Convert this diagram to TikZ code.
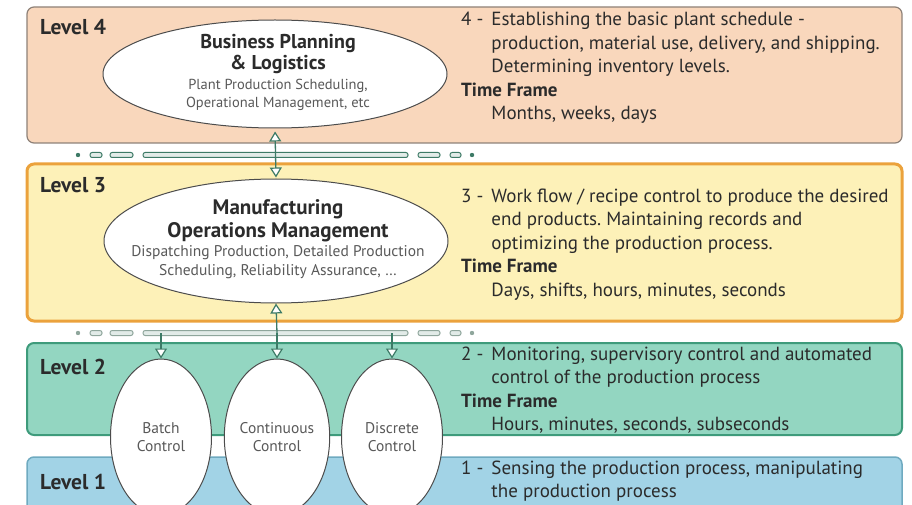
\documentclass[tikz,border=0pt]{standalone}
\usepackage{fontspec}
\setmainfont{PT Sans}
\usepackage{tikz}
\usetikzlibrary{shapes.geometric,arrows.meta,positioning,calc}
\frenchspacing

\definecolor{lfourfill}{HTML}{F9D7BC}
\definecolor{lfourline}{HTML}{8E8178}
\definecolor{lthreefill}{HTML}{FDF1B8}
\definecolor{lthreeline}{HTML}{EBA23C}
\definecolor{ltwofill}{HTML}{93D6C1}
\definecolor{ltwoline}{HTML}{3E9B7B}
\definecolor{lonefill}{HTML}{A2D3E6}
\definecolor{loneline}{HTML}{6FAAC0}
\definecolor{inktext}{HTML}{2B2B2B}
\definecolor{linkgreen}{HTML}{3D7A66}
\definecolor{sepgray}{HTML}{8FA69C}

\tikzset{
  levelbox/.style={rounded corners=7pt, line width=1.2pt},
  levellabel/.style={anchor=base west, font=\fontsize{21.5}{24}\selectfont\bfseries, text=inktext, inner sep=0pt},
  leveltext/.style={anchor=base west, font=\fontsize{19}{23.5}\selectfont, text=inktext, inner sep=0pt},
  bigoval/.style={ellipse, draw=black!70, fill=white, line width=1pt, minimum width=344pt, minimum height=108pt, inner sep=0pt},
  ctloval/.style={ellipse, draw=black!70, fill=white, line width=1pt, minimum width=101pt, minimum height=156pt, inner sep=0pt,
    font=\fontsize{15.5}{18.5}\selectfont, text=black!65, align=center},
  sepdot/.style={draw=linkgreen, fill=white!85!linkgreen, line width=1pt, rounded corners=2.2pt},
  link/.style={draw=linkgreen, line width=1.3pt},
  tip/.style={-{Triangle[open, width=12pt, length=10pt, line width=1.2pt, fill=white]}}
}

\newcommand{\levellines}[3]{%
  \begin{tabular}[t]{@{}l@{\hspace{8pt}}l@{}}#1 -& #2\\\multicolumn{2}{@{}l@{}}{\bfseries Time Frame}\\ & #3\end{tabular}}

\begin{document}
\begin{tikzpicture}[x=1pt,y=-1pt]
  \useasboundingbox (0,0) rectangle (912,505);
  \clip (0,0) rectangle (912,505);

  % level boxes
  \draw[levelbox, fill=lfourfill, draw=lfourline] (27,7) rectangle (902,143);
  \draw[levelbox, fill=lthreefill, draw=lthreeline, line width=3pt] (27,164) rectangle (902,321);
  \draw[levelbox, fill=ltwofill, draw=ltwoline, line width=2pt] (27,343) rectangle (902,435);
  \draw[levelbox, fill=lonefill, draw=loneline, line width=1.5pt] (27,457) rectangle (902,530);

  \node[levellabel] (lab4) at (40,35) {Level 4};
  \node[levellabel] (lab3) at (40,193) {Level 3};
  \node[levellabel] (lab2) at (40,374) {Level 2};
  \node[levellabel] (lab1) at (40,489) {Level 1};

  % separators
  \foreach \yy/\cc in {155/linkgreen, 333/sepgray} {
    \fill[\cc] (78,\yy) circle (2.2pt);
    \draw[sepdot, draw=\cc] (90,\yy-2.5) rectangle (102,\yy+2.5);
    \draw[sepdot, draw=\cc] (110,\yy-2.5) rectangle (133,\yy+2.5);
    \draw[sepdot, draw=\cc] (143,\yy-2.5) rectangle (408,\yy+2.5);
    \draw[sepdot, draw=\cc] (418,\yy-2.5) rectangle (440,\yy+2.5);
    \draw[sepdot, draw=\cc] (450,\yy-2.5) rectangle (461,\yy+2.5);
    \fill[\cc] (472,\yy) circle (2.2pt);
  }

  % ovals
  \node[bigoval] (bpl) at (275,74) {};
  \node[text=inktext, font=\fontsize{20}{21}\selectfont\bfseries, align=center] (bpltitle) at (278,54) {Business Planning\\\& Logistics};
  \node[text=black!65, font=\fontsize{14.5}{18}\selectfont, align=center] (bplsub) at (278,95) {Plant Production Scheduling,\\Operational Management, etc};

  \node[bigoval, minimum height=124pt] (mom) at (276,241) {};
  \node[text=inktext, font=\fontsize{21}{23}\selectfont\bfseries, align=center] (momtitle) at (278,221) {Manufacturing\\Operations Management};
  \node[text=black!65, font=\fontsize{15.5}{19}\selectfont, align=center] (momsub) at (278,262) {Dispatching Production, Detailed Production\\Scheduling, Reliability Assurance, \dots};

  \node[ctloval] (batch) at (161,437) {Batch\\Control};
  \node[ctloval] (cont) at (277,437) {Continuous\\Control};
  \node[ctloval] (disc) at (392,437) {Discrete\\Control};

  % connectors
  \coordinate (hub) at (277,333);
  \draw[link, {Triangle[open, width=12pt, length=10pt, line width=1.2pt, fill=white]}-{Triangle[open, width=12pt, length=10pt, line width=1.2pt, fill=white]}, shorten <=3pt, shorten >=1pt] (bpl.south) -- (mom.north);
  \draw[link, tip] (hub) -- (mom.south);
  \draw[link, tip] (hub) -- (cont.north);
  \draw[link, tip] (hub -| batch.north) -- (batch.north);
  \draw[link, tip] (hub -| disc.north) -- (disc.north);

  % descriptions
  \node[leveltext] (txt4) at (461,26) {\levellines{4}{Establishing the basic plant schedule -\\& production, material use, delivery, and shipping.\\& Determining inventory levels.}{Months, weeks, days}};
  \node[leveltext] (txt3) at (461,202) {\levellines{3}{Work flow / recipe control to produce the desired\\& end products. Maintaining records and\\& optimizing the production process.}{Days, shifts, hours, minutes, seconds}};
  \node[leveltext] (txt2) at (461,360) {\levellines{2}{Monitoring, supervisory control and automated\\& control of the production process}{Hours, minutes, seconds, subseconds}};
  \node[leveltext] (txt1) at (461,474) {\begin{tabular}[t]{@{}l@{\hspace{8pt}}l@{}}1 -& Sensing the production process, manipulating\\& the production process\end{tabular}};
\end{tikzpicture}
\end{document}
